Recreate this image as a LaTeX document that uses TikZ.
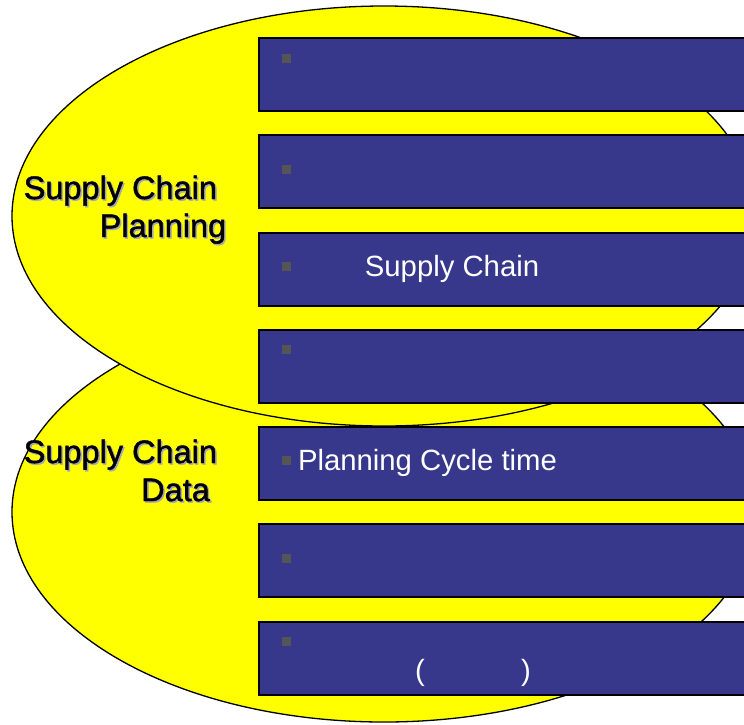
\documentclass[tikz,border=0pt]{standalone}
\usepackage{fontspec}
\setmainfont{Liberation Sans}
\newfontface\lblfont{Liberation Sans}[FakeBold=1.3]
\usetikzlibrary{shapes.geometric}
\definecolor{boxblue}{RGB}{55,56,139}
\definecolor{ellyellow}{RGB}{255,255,0}
\definecolor{bulletgray}{RGB}{85,85,85}
\definecolor{shadowgray}{RGB}{165,165,185}
\begin{document}
\begin{tikzpicture}[x=1pt,y=-1pt,
  oval/.style={ellipse, draw=black, line width=1.3pt, fill=ellyellow,
    minimum width=744pt, minimum height=420pt, inner sep=0pt},
  bar/.style={rectangle, draw=black, line width=2pt, fill=boxblue,
    minimum width=520pt, minimum height=73pt, anchor=north west, inner sep=0pt},
  bulletsq/.style={rectangle, fill=bulletgray, minimum size=9pt, inner sep=0pt, anchor=north west},
  lbl/.style={font=\lblfont\fontsize{32.5}{38}\selectfont, text=black, inner sep=0pt, anchor=base west},
  lblshadow/.style={lbl, text=shadowgray},
  boxtxt/.style={font=\fontsize{29.3}{34}\selectfont, text=white, inner sep=0pt, anchor=base west},
  paren/.style={boxtxt, anchor=base}]
\clip (0,0) rectangle (744,724);
% ellipses
\node[oval] (dataoval) at (384,512) {};
\node[oval] (planoval) at (384,216) {};
% bars
\node[bar] (bar1) at (258,37) {};
\node[bar] (bar2) at (258,134) {};
\node[bar] (bar3) at (258,231.5) {};
\node[bar] (bar4) at (258,328.5) {};
\node[bar] (bar5) at (258,426) {};
\node[bar] (bar6) at (258,523) {};
\node[bar] (bar7) at (258,620.5) {};
% bullets
\node[bulletsq] (bul1) at (282,54) {};
\node[bulletsq] (bul2) at (282,165) {};
\node[bulletsq] (bul3) at (282,262) {};
\node[bulletsq] (bul4) at (282,345) {};
\node[bulletsq] (bul5) at (282,456) {};
\node[bulletsq] (bul6) at (282,554) {};
\node[bulletsq] (bul7) at (282,637) {};
% bar texts
\node[boxtxt] (t3) at (364.7,276) {Supply Chain};
\node[boxtxt] (t5) at (297.8,470) {Planning Cycle time};
\node[paren] (t7a) at (420,680) {(};
\node[paren] (t7b) at (526,680) {)};
% ellipse labels with shadow
\node[lblshadow] (plansh1) at (25,200.5) {Supply Chain};
\node[lblshadow] (plansh2) at (101,238.5) {Planning};
\node[lbl] (plan1) at (23.5,199) {Supply Chain};
\node[lbl] (plan2) at (99.5,237) {Planning};
\node[lblshadow] (datash1) at (25,464.5) {Supply Chain};
\node[lblshadow] (datash2) at (142.5,502.5) {Data};
\node[lbl] (data1) at (23.5,463) {Supply Chain};
\node[lbl] (data2) at (141,501) {Data};
\end{tikzpicture}
\end{document}
